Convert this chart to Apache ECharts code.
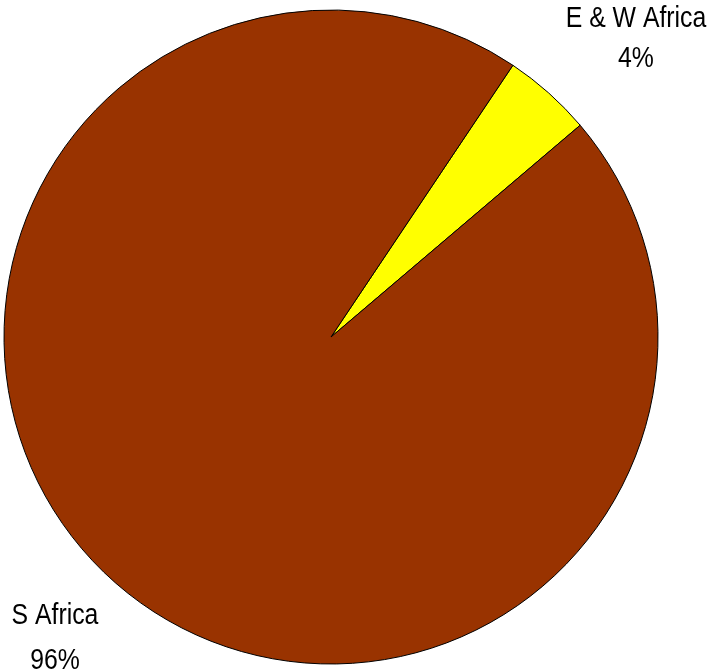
<!DOCTYPE html>
<html>
<head>
<meta charset="utf-8">
<script src="https://cdn.jsdelivr.net/npm/echarts@6/dist/echarts.min.js"></script>
<style>
  html, body { margin: 0; padding: 0; background: #fff; }
  #chart { width: 712px; height: 669px; }
</style>
</head>
<body>
<div id="chart"></div>
<script>
// Regional share of the total
const regions = ['E & W Africa', 'S Africa'];
const shares = [4.4, 95.6];
const sliceColors = ['#FFFF00', '#993300'];

// Label anchors: horizontal centre plus the vertical middle of each text line
const labelX = [636, 55];
const nameLineY = [19, 616];
const pctLineY = [59, 661];

const total = shares.reduce((a, b) => a + b, 0);
const labelFont = '29px "Liberation Sans", Arial, sans-serif';

// Slightly condensed text, as in a narrow sans face
function labelText(str, x, y) {
  return {
    type: 'text',
    x: x,
    y: y,
    scaleX: 0.855,
    silent: true,
    style: {
      text: str,
      font: labelFont,
      fill: '#000000',
      align: 'center',
      verticalAlign: 'middle'
    }
  };
}

const labels = [];
regions.forEach((name, i) => {
  labels.push(labelText(name, labelX[i], nameLineY[i]));
  labels.push(labelText(Math.round(shares[i] / total * 100) + '%', labelX[i], pctLineY[i]));
});

const chart = echarts.init(document.getElementById('chart'), null, { renderer: 'canvas' });

chart.setOption({
  backgroundColor: '#ffffff',
  animation: false,
  graphic: labels,
  series: [{
    type: 'pie',
    center: [331, 337],
    radius: [0, 327],
    startAngle: 56.2,
    clockwise: true,
    data: regions.map((name, i) => ({
      name,
      value: shares[i],
      itemStyle: { color: sliceColors[i] }
    })),
    itemStyle: { borderColor: '#000000', borderWidth: 1 },
    label: { show: false },
    labelLine: { show: false },
    emphasis: { disabled: true }
  }]
});
</script>
</body>
</html>
